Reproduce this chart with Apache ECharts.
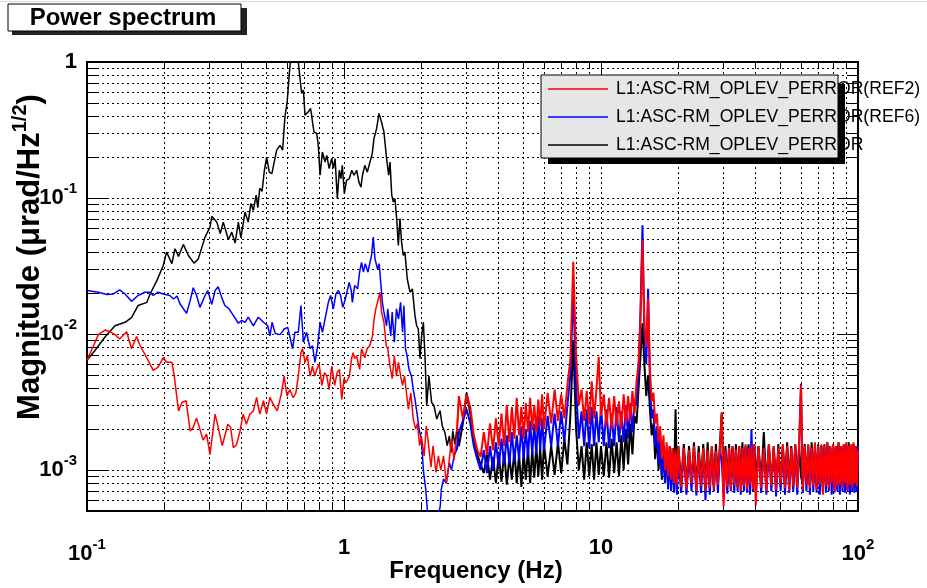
<!DOCTYPE html>
<html>
<head>
<meta charset="utf-8">
<title>Power spectrum</title>
<script src="https://cdn.jsdelivr.net/npm/echarts@6/dist/echarts.min.js"></script>
<style>
  html, body { margin: 0; padding: 0; background: #fff; }
  #chart { width: 927px; height: 588px; }
</style>
</head>
<body>
<div id="chart"></div>
<script>
// tick positions (log axes, minor + major)
const xTicks = [0.1,0.2,0.3,0.4,0.5,0.6,0.7,0.8,0.9,1,2,3,4,5,6,7,8,9,10,20,30,40,50,60,70,80,90,100];
const xMajor = [0.1, 1, 10, 100];
const yTicks = [0.0005,0.0006,0.0007,0.0008,0.0009,0.001,0.002,0.003,0.004,0.005,0.006,0.007,0.008,0.009,
  0.01,0.02,0.03,0.04,0.05,0.06,0.07,0.08,0.09,0.1,0.2,0.3,0.4,0.5,0.6,0.7,0.8,0.9,1];
const yMajor = [0.001, 0.01, 0.1, 1];

const seriesNames = ['L1:ASC-RM_OPLEV_PERROR(REF2)', 'L1:ASC-RM_OPLEV_PERROR(REF6)', 'L1:ASC-RM_OPLEV_PERROR'];
const seriesColors = ['#ff0000', '#0000ff', '#000000'];

// low frequency part, [Hz, magnitude]
const redLow = [[0.1,0.0064],[0.106,0.0082],[0.1107,0.0099],[0.1175,0.0107],[0.1227,0.0104],[0.1285,0.0099],[0.134,0.0092],
  [0.1426,0.0104],[0.149,0.0078],[0.156,0.0096],[0.161,0.0082],[0.168,0.0071],[0.176,0.006],[0.181,0.0054],[0.189,0.0057],
  [0.198,0.0067],[0.204,0.0062],[0.214,0.0062],[0.218,0.0051],[0.227,0.00272],[0.234,0.00314],[0.243,0.00323],[0.252,0.00194],
  [0.259,0.00206],[0.267,0.00241],[0.275,0.002],[0.283,0.00166],[0.292,0.00184],[0.301,0.0013],[0.315,0.00258],[0.324,0.00206],
  [0.336,0.00151],[0.353,0.00217],[0.362,0.00206],[0.371,0.00146],[0.382,0.00154],[0.394,0.00194],[0.405,0.00258],[0.417,0.00217],
  [0.43,0.00258],[0.444,0.00272],[0.457,0.00342],[0.47,0.00258],[0.486,0.00323],[0.5,0.00258],[0.515,0.00342],[0.53,0.00305],
  [0.55,0.00272],[0.57,0.00362],[0.585,0.0049],[0.6,0.0035],[0.615,0.0039],[0.635,0.0034],[0.65,0.0037],[0.664,0.0049],
  [0.68,0.0073],[0.69,0.0078],[0.705,0.0062],[0.72,0.0069],[0.738,0.0049],[0.754,0.0058],[0.77,0.0049],[0.783,0.0055],
  [0.8,0.006],[0.82,0.0042],[0.84,0.0052],[0.857,0.0049],[0.875,0.0039],[0.896,0.0058],[0.92,0.0042],[0.94,0.0052],
  [0.96,0.0055],[0.98,0.0033],[1.0,0.0047],[1.02,0.0044],[1.05,0.0049],[1.07,0.0066],[1.085,0.0073],[1.1,0.0066],
  [1.12,0.0069],[1.15,0.0055],[1.17,0.0078],[1.205,0.0067],[1.23,0.0078],[1.26,0.0082],[1.29,0.0097],[1.31,0.0129],
  [1.33,0.0153],[1.36,0.0181],[1.38,0.0203],[1.4,0.0145],[1.43,0.0122],[1.46,0.0082],[1.48,0.0078],[1.51,0.0058],
  [1.54,0.0047],[1.57,0.0069],[1.6,0.0049],[1.63,0.0062],[1.66,0.0049],[1.69,0.0042],[1.72,0.0049],[1.75,0.0037],
  [1.78,0.0028],[1.82,0.0037],[1.86,0.00237],[1.9,0.002],[1.93,0.0022],[1.97,0.00151],[2.0,0.00178],[2.05,0.00127],
  [2.09,0.00211],[2.13,0.00157],[2.18,0.00105],[2.22,0.00151],[2.28,0.00096],[2.33,0.00127],[2.38,0.001],[2.44,0.00127],
  [2.5,0.0008],[2.55,0.00105],[2.62,0.00169],[2.68,0.00118],[2.75,0.0019]];

const blueLow = [[0.1,0.0209],[0.1107,0.0203],[0.1194,0.0195],[0.1266,0.0197],[0.134,0.0211],[0.1406,0.0197],[0.149,0.0174],
  [0.158,0.0192],[0.168,0.0203],[0.176,0.0203],[0.181,0.0192],[0.189,0.0203],[0.198,0.0197],[0.21,0.0192],[0.217,0.0181],
  [0.224,0.019],[0.23,0.0167],[0.234,0.0168],[0.244,0.0142],[0.252,0.0176],[0.259,0.0219],[0.267,0.0192],[0.275,0.0157],
  [0.288,0.0192],[0.295,0.0209],[0.306,0.0165],[0.315,0.0209],[0.324,0.0223],[0.334,0.0186],[0.344,0.0162],[0.357,0.0153],
  [0.371,0.0137],[0.388,0.012],[0.4,0.0126],[0.412,0.0122],[0.424,0.0133],[0.444,0.0115],[0.464,0.0133],[0.486,0.0122],
  [0.505,0.0115],[0.515,0.0097],[0.525,0.0122],[0.54,0.0101],[0.564,0.0099],[0.585,0.0109],[0.604,0.0112],[0.631,0.0078],
  [0.644,0.0103],[0.664,0.0103],[0.68,0.0162],[0.695,0.0087],[0.715,0.0103],[0.738,0.0078],[0.754,0.0082],[0.771,0.0062],
  [0.79,0.0082],[0.807,0.0122],[0.824,0.0103],[0.844,0.0129],[0.869,0.0171],[0.887,0.0192],[0.909,0.0153],[0.93,0.0197],
  [0.951,0.0209],[0.97,0.0192],[0.989,0.0157],[1.012,0.0181],[1.047,0.024],[1.067,0.0209],[1.078,0.0171],[1.1,0.0227],
  [1.13,0.0215],[1.15,0.0285],[1.17,0.0337],[1.19,0.0285],[1.21,0.0329],[1.24,0.0285],[1.262,0.0337],[1.28,0.0378],
  [1.3,0.0516],[1.32,0.0357],[1.35,0.0302],[1.37,0.0329],[1.39,0.024],[1.41,0.0171],[1.43,0.0145],[1.465,0.0115],
  [1.48,0.0153],[1.52,0.0097],[1.54,0.0145],[1.57,0.0087],[1.6,0.0153],[1.63,0.0129],[1.66,0.0171],[1.69,0.0103],
  [1.71,0.0162],[1.735,0.0078],[1.76,0.0069],[1.79,0.0055],[1.83,0.0049],[1.86,0.0039],[1.89,0.0033],[1.93,0.0025],
  [1.96,0.002],[2.0,0.00169],[2.04,0.00096],[2.08,0.00072],[2.11,0.00051],[2.16,0.0004],[2.25,0.00035],[2.33,0.00045],
  [2.37,0.00055],[2.39,0.00072],[2.44,0.00086],[2.5,0.0008],[2.57,0.00113],[2.62,0.001],[2.68,0.00127],[2.75,0.00142]];

const blackLow = [[0.1,0.0064],[0.107,0.0075],[0.1175,0.0095],[0.1285,0.0115],[0.1406,0.0122],[0.149,0.0132],[0.158,0.0162],
  [0.171,0.0171],[0.176,0.0197],[0.187,0.0247],[0.198,0.0319],[0.204,0.04],[0.214,0.0329],[0.22,0.0424],[0.227,0.0372],
  [0.237,0.0456],[0.248,0.0378],[0.261,0.0332],[0.271,0.0357],[0.288,0.0516],[0.301,0.0611],[0.306,0.0733],[0.32,0.0665],
  [0.33,0.0547],[0.339,0.0665],[0.355,0.0493],[0.366,0.0561],[0.377,0.0466],[0.388,0.0665],[0.397,0.051],[0.412,0.0789],
  [0.424,0.0665],[0.434,0.091],[0.444,0.0812],[0.455,0.105],[0.462,0.085],[0.47,0.118],[0.48,0.112],[0.49,0.16],
  [0.5,0.2],[0.512,0.155],[0.524,0.151],[0.547,0.225],[0.564,0.244],[0.577,0.225],[0.589,0.395],[0.601,0.51],
  [0.612,0.8],[0.63,1.5],[0.65,1.5],[0.666,0.95],[0.684,0.588],[0.695,0.622],[0.705,0.407],[0.726,0.43],[0.741,0.456],
  [0.764,0.306],[0.783,0.298],[0.794,0.245],[0.807,0.147],[0.824,0.218],[0.844,0.184],[0.857,0.206],[0.875,0.165],
  [0.896,0.195],[0.909,0.165],[0.923,0.195],[0.942,0.099],[0.959,0.16],[0.973,0.139],[0.985,0.174],[1.003,0.108],
  [1.023,0.135],[1.049,0.139],[1.072,0.16],[1.094,0.147],[1.12,0.16],[1.143,0.131],[1.164,0.12],[1.18,0.147],
  [1.205,0.174],[1.232,0.155],[1.262,0.184],[1.288,0.212],[1.308,0.274],[1.34,0.325],[1.368,0.419],[1.393,0.374],
  [1.413,0.385],[1.43,0.306],[1.465,0.195],[1.492,0.147],[1.51,0.184],[1.534,0.105],[1.556,0.0935],[1.578,0.099],
  [1.603,0.0705],[1.627,0.0448],[1.651,0.0705],[1.675,0.0474],[1.701,0.0378],[1.726,0.04],[1.762,0.0255],[1.806,0.0203],
  [1.845,0.0215],[1.888,0.0137],[1.918,0.0115],[1.946,0.0109],[1.976,0.0066],[2.005,0.0097],[2.036,0.0122],[2.066,0.0069],
  [2.098,0.00297],[2.14,0.0049],[2.193,0.00314],[2.24,0.00297],[2.295,0.00237],[2.365,0.00273],[2.412,0.00211],
  [2.47,0.00189],[2.52,0.00151],[2.57,0.00178],[2.61,0.00134],[2.65,0.00194],[2.7,0.00155],[2.75,0.002]];

// high frequency part: shared frequency list (Hz) and one magnitude list per trace
const hiFreq = [2.8,2.9,3.0,3.1,3.2,3.3,3.4,3.5,3.6,3.7,3.8,3.9,4.0,4.1,4.2,4.3,4.4,4.5,4.6,4.7,4.8,4.9,5.0,5.1,5.2,5.3,5.4,5.5,5.6,5.7,5.8,5.9,6.0,
  6.2,6.4,6.6,6.8,7.0,7.2,7.4,7.6,7.8,8.0,8.2,8.4,8.6,8.8,9.0,9.2,9.4,9.6,9.8,10,
  10.25,10.5,10.75,11,11.25,11.5,11.75,12,12.25,12.5,12.75,13,13.25,13.5,13.75,14,14.25,14.5,14.75,15,
  15.25,15.5,15.75,16,16.25,16.5,16.75,17,17.25,17.5,17.75,18,18.25,18.5,18.75,19,19.25,19.5,19.75,20,
  20.5,21,21.5,22,22.5,23,23.5,24,24.5,25,25.5,26,26.5,27,27.5,28,28.5,29,29.5,30,
  30.5,31,31.5,32,32.5,33,33.5,34,34.5,35,35.5,36,36.5,37,37.5,38,38.5,39,39.5,40,
  41,42,43,44,45,46,47,48,49,50,51,52,53,54,55,56,57,58,59,60,
  61,62,63,64,65,66,67,68,69,70,71,72,73,74,75,76,77,78,79,80,
  81,82,83,84,85,86,87,88,89,90,91,92,93,94,95,96,97,98,99,100];

const redHi = [3.5e-3,2.4e-3,3.6e-3,2.9e-3,1.8e-3,1.4e-3,1.25e-3,1.9e-3,1.3e-3,2.2e-3,
  1.4e-3,2.4e-3,1.5e-3,2.6e-3,1.5e-3,3.0e-3,1.6e-3,2.9e-3,1.7e-3,3.4e-3,
  1.8e-3,2.9e-3,1.7e-3,3.1e-3,1.9e-3,3.4e-3,2.0e-3,3.0e-3,1.9e-3,3.3e-3,
  2.1e-3,3.6e-3,2.0e-3,
  3.7e-3,2.2e-3,3.9e-3,2.3e-3,3.6e-3,2.4e-3,4.2e-3,6.5e-3,3.4e-2,7.0e-3,
  3.0e-3,3.9e-3,2.3e-3,3.8e-3,2.2e-3,4.5e-3,2.4e-3,3.9e-3,6.8e-3,2.5e-3,
  3.6e-3,2.1e-3,3.4e-3,2.0e-3,3.5e-3,2.1e-3,3.2e-3,2.0e-3,3.6e-3,2.2e-3,
  3.5e-3,2.3e-3,3.8e-3,2.6e-3,4.5e-3,6.0e-3,1.3e-2,4.9e-2,1.2e-2,8.0e-3,
  1.85e-2,5.5e-3,3.2e-3,3.7e-3,2.2e-3,2.6e-3,1.6e-3,2.1e-3,1.2e-3,1.8e-3,
  1.0e-3,1.6e-3,0.9e-3,1.5e-3,0.85e-3,1.45e-3,0.8e-3,1.4e-3,0.78e-3,1.5e-3,
  0.75e-3,1.45e-3,0.72e-3,1.4e-3,0.8e-3,1.5e-3,0.7e-3,1.35e-3,0.76e-3,1.45e-3,
  0.7e-3,1.4e-3,0.74e-3,1.5e-3,0.72e-3,1.38e-3,0.78e-3,1.45e-3,2.65e-3,0.54e-3,
  1.4e-3,0.75e-3,1.45e-3,0.72e-3,1.5e-3,0.78e-3,1.42e-3,0.74e-3,1.5e-3,0.7e-3,
  1.45e-3,0.76e-3,1.55e-3,0.73e-3,1.45e-3,0.78e-3,1.5e-3,0.72e-3,1.55e-3,0.55e-3,
  1.5e-3,0.74e-3,1.45e-3,0.7e-3,1.55e-3,0.76e-3,1.5e-3,0.72e-3,1.45e-3,0.78e-3,
  1.55e-3,0.74e-3,1.5e-3,0.7e-3,1.45e-3,0.76e-3,1.55e-3,0.74e-3,1.5e-3,4.2e-3,
  0.72e-3,1.5e-3,0.78e-3,1.55e-3,0.74e-3,1.45e-3,0.76e-3,1.6e-3,0.72e-3,1.5e-3,
  0.78e-3,1.55e-3,0.66e-3,1.5e-3,0.76e-3,1.6e-3,0.74e-3,1.5e-3,0.8e-3,1.55e-3,
  0.7e-3,1.5e-3,0.76e-3,1.6e-3,0.78e-3,1.5e-3,0.74e-3,1.55e-3,0.8e-3,1.6e-3,
  0.72e-3,1.5e-3,0.78e-3,1.55e-3,0.74e-3,1.6e-3,0.8e-3,1.5e-3,0.76e-3,1.4e-3];

const blueHi = [1.9e-3,2.3e-3,2.8e-3,2.2e-3,1.5e-3,1.2e-3,1.0e-3,1.4e-3,0.95e-3,1.5e-3,
  1.0e-3,1.6e-3,1.05e-3,1.7e-3,1.1e-3,1.8e-3,1.1e-3,1.9e-3,1.15e-3,1.8e-3,
  1.2e-3,2.1e-3,1.2e-3,2.0e-3,1.25e-3,2.3e-3,1.3e-3,2.2e-3,1.3e-3,2.5e-3,
  1.4e-3,2.4e-3,1.4e-3,
  2.5e-3,1.5e-3,2.6e-3,1.5e-3,2.7e-3,1.6e-3,3.0e-3,5.0e-3,2.2e-2,4.0e-3,
  1.7e-3,2.7e-3,1.5e-3,2.8e-3,1.45e-3,2.9e-3,1.5e-3,2.7e-3,1.6e-3,2.9e-3,
  1.5e-3,2.8e-3,1.45e-3,2.6e-3,1.5e-3,2.9e-3,1.6e-3,2.7e-3,1.6e-3,3.0e-3,
  1.7e-3,3.1e-3,1.9e-3,3.3e-3,3.0e-3,5.5e-3,1.5e-2,6.3e-2,1.0e-2,6.0e-3,
  2.15e-2,4.5e-3,2.4e-3,2.8e-3,1.5e-3,2.1e-3,1.1e-3,1.8e-3,0.9e-3,1.5e-3,
  0.8e-3,1.4e-3,0.72e-3,1.3e-3,0.7e-3,1.35e-3,0.68e-3,1.3e-3,0.66e-3,1.3e-3,
  0.68e-3,1.35e-3,0.66e-3,1.3e-3,0.7e-3,1.35e-3,0.65e-3,1.3e-3,0.68e-3,1.4e-3,
  0.6e-3,1.35e-3,0.66e-3,1.3e-3,0.7e-3,1.4e-3,0.68e-3,1.35e-3,1.2e-3,0.62e-3,
  1.4e-3,0.67e-3,1.4e-3,0.7e-3,1.45e-3,0.68e-3,1.4e-3,0.7e-3,1.45e-3,0.66e-3,
  1.4e-3,0.7e-3,1.45e-3,0.68e-3,1.5e-3,0.66e-3,2.0e-3,0.7e-3,1.45e-3,0.68e-3,
  1.45e-3,0.68e-3,1.4e-3,0.66e-3,1.5e-3,0.7e-3,1.45e-3,0.64e-3,1.4e-3,0.7e-3,
  1.5e-3,0.66e-3,1.45e-3,0.68e-3,1.4e-3,0.7e-3,1.5e-3,0.66e-3,1.45e-3,4.3e-3,
  0.68e-3,1.45e-3,0.7e-3,1.5e-3,0.66e-3,1.4e-3,0.7e-3,1.55e-3,0.68e-3,1.45e-3,
  0.66e-3,1.5e-3,0.7e-3,1.45e-3,0.68e-3,1.55e-3,0.7e-3,1.45e-3,0.66e-3,1.5e-3,
  0.68e-3,1.45e-3,0.7e-3,1.55e-3,0.66e-3,1.45e-3,0.7e-3,1.5e-3,0.68e-3,1.55e-3,
  0.7e-3,1.45e-3,0.66e-3,1.5e-3,0.7e-3,1.55e-3,0.68e-3,1.45e-3,0.7e-3,1.5e-3];

const blackHi = [1.5e-3,2.2e-3,3.7e-3,2.6e-3,1.7e-3,1.3e-3,1.1e-3,0.95e-3,1.3e-3,0.85e-3,
  1.25e-3,0.8e-3,1.3e-3,0.82e-3,1.35e-3,0.78e-3,1.25e-3,0.85e-3,1.4e-3,0.8e-3,
  1.3e-3,0.75e-3,1.35e-3,0.85e-3,1.45e-3,0.8e-3,1.4e-3,0.88e-3,1.5e-3,0.9e-3,
  1.45e-3,0.85e-3,1.55e-3,
  0.9e-3,1.5e-3,0.92e-3,1.6e-3,0.95e-3,1.7e-3,1.1e-3,2.5e-3,9.0e-3,2.0e-3,
  1.0e-3,1.5e-3,0.85e-3,1.6e-3,0.9e-3,1.55e-3,0.85e-3,1.6e-3,0.92e-3,1.5e-3,
  0.9e-3,1.6e-3,0.88e-3,1.7e-3,0.95e-3,1.6e-3,0.9e-3,1.8e-3,1.0e-3,2.0e-3,
  1.1e-3,2.2e-3,1.3e-3,2.5e-3,2.2e-3,4.0e-3,7.0e-3,1.2e-2,6.0e-3,3.5e-3,
  5.0e-3,2.8e-3,1.8e-3,2.2e-3,1.2e-3,1.8e-3,1.0e-3,1.6e-3,0.85e-3,1.5e-3,
  0.8e-3,1.4e-3,0.78e-3,1.5e-3,0.8e-3,1.45e-3,0.82e-3,2.8e-3,0.85e-3,1.5e-3,
  0.8e-3,1.55e-3,0.78e-3,1.5e-3,0.8e-3,1.6e-3,0.76e-3,1.5e-3,0.8e-3,1.55e-3,
  0.78e-3,1.6e-3,0.8e-3,1.5e-3,0.76e-3,1.55e-3,0.8e-3,1.5e-3,2.65e-3,0.78e-3,
  1.5e-3,0.8e-3,1.55e-3,0.78e-3,1.5e-3,0.8e-3,1.55e-3,0.76e-3,1.5e-3,0.8e-3,
  1.6e-3,0.78e-3,1.5e-3,0.8e-3,1.55e-3,0.78e-3,1.5e-3,0.8e-3,1.55e-3,0.8e-3,
  1.5e-3,0.8e-3,1.9e-3,0.78e-3,1.55e-3,0.8e-3,1.5e-3,0.76e-3,1.55e-3,0.8e-3,
  1.5e-3,0.78e-3,1.6e-3,0.8e-3,1.5e-3,0.76e-3,1.55e-3,0.8e-3,1.5e-3,0.9e-3,
  0.78e-3,1.55e-3,0.8e-3,1.5e-3,0.76e-3,1.6e-3,0.8e-3,1.5e-3,0.78e-3,1.55e-3,
  0.8e-3,1.5e-3,0.76e-3,1.55e-3,0.8e-3,1.6e-3,0.78e-3,1.5e-3,0.8e-3,1.55e-3,
  0.76e-3,1.5e-3,0.8e-3,1.6e-3,0.78e-3,1.5e-3,0.8e-3,1.55e-3,0.76e-3,1.5e-3,
  0.8e-3,1.6e-3,0.78e-3,1.5e-3,0.8e-3,1.55e-3,0.78e-3,1.5e-3,0.8e-3,1.55e-3];

// the dense noise part is drawn a little thicker so it reads as a band, like the original plot
function lowPart(low, hi) {
  return low.concat([[hiFreq[0], hi[0]]]);
}
function hiPart(low, hi) {
  return [low[low.length - 1]].concat(hiFreq.map((f, i) => [f, hi[i]]));
}

const FONT = "'Liberation Sans', Arial, Helvetica, sans-serif";

function powLabel(v) {
  if (Math.abs(v - 1) < 1e-9) return '1';
  if (Math.abs(v - 10) < 1e-9) return '10';
  return '10{sup|' + Math.round(Math.log10(v)) + '}';
}
const labelRich = {
  sup: { fontSize: 15, fontWeight: 'bold', fontFamily: FONT, color: '#000', padding: [0, 0, 18, 0] }
};

function axisCfg(dim, pos, ticks, len, isMain) {
  const cfg = {
    type: 'log', logBase: 10, position: pos, gridIndex: 0,
    min: dim === 'x' ? 0.1 : 0.0005, max: dim === 'x' ? 100 : 1,
    axisLine: { show: true, onZero: false, lineStyle: { color: '#000', width: 2 } },
    axisTick: { show: true, inside: true, length: len, customValues: ticks, lineStyle: { color: '#000', width: 1 } },
    axisLabel: { show: false },
    splitLine: { show: false },
    minorTick: { show: false },
    minorSplitLine: { show: false },
    silent: true
  };
  if (isMain) {
    cfg.splitLine = { show: true, lineStyle: { color: '#000', width: 1, type: [2, 3] } };
    cfg.axisLabel = {
      show: true,
      customValues: dim === 'x' ? xMajor : yMajor,
      formatter: powLabel,
      fontFamily: FONT, fontWeight: 'bold', fontSize: 22, color: '#000',
      margin: dim === 'x' ? 26 : 10,
      rich: labelRich,
      hideOverlap: false
    };
  }
  return cfg;
}

const chart = echarts.init(document.getElementById('chart'), null, { renderer: 'canvas' });

const traces = [
  { name: seriesNames[2], color: seriesColors[2], low: blackLow, hi: blackHi },
  { name: seriesNames[1], color: seriesColors[1], low: blueLow, hi: blueHi },
  { name: seriesNames[0], color: seriesColors[0], low: redLow, hi: redHi }
];

function lineSeries(name, color, data, width) {
  return {
    type: 'line', name: name, xAxisIndex: 0, yAxisIndex: 0,
    data: data, showSymbol: false, symbol: 'none', clip: true,
    lineStyle: { color: color, width: width }, itemStyle: { color: color },
    sampling: null, silent: true
  };
}
const seriesList = traces.map(t => lineSeries(t.name, t.color, lowPart(t.low, t.hi), 1.5))
  .concat(traces.map(t => lineSeries(t.name, t.color, hiPart(t.low, t.hi), 2)));

const legendY = [89, 117, 145];
const legendItems = [];
seriesNames.forEach((name, i) => {
  legendItems.push({
    type: 'line', z: 101,
    shape: { x1: 548, y1: legendY[i], x2: 608, y2: legendY[i] },
    style: { stroke: seriesColors[i], lineWidth: 1.5 }
  });
  legendItems.push({
    type: 'text', z: 101, x: 616, y: legendY[i],
    style: { text: name, fill: '#000', font: '17.6px ' + FONT, align: 'left', verticalAlign: 'middle',
      textAlign: 'left', textVerticalAlign: 'middle' }
  });
});

chart.setOption({
  animation: false,
  backgroundColor: '#fff',
  grid: { left: 87, right: 69, top: 62, bottom: 77, containLabel: false, outerBoundsMode: 'none' },
  xAxis: [
    axisCfg('x', 'bottom', xTicks, 7, true),
    axisCfg('x', 'bottom', xMajor, 15, false),
    axisCfg('x', 'top', xTicks, 7, false),
    axisCfg('x', 'top', xMajor, 15, false)
  ],
  yAxis: [
    axisCfg('y', 'left', yTicks, 10, true),
    axisCfg('y', 'left', yMajor, 20, false),
    axisCfg('y', 'right', yTicks, 10, false),
    axisCfg('y', 'right', yMajor, 20, false)
  ],
  series: seriesList,
  graphic: [
    { type: 'line', z: 90, shape: { x1: 0, y1: 1.5, x2: 927, y2: 1.5 }, style: { stroke: '#d8d8d8', lineWidth: 1 } },
    // title box
    { type: 'rect', z: 99, shape: { x: 12, y: 8, width: 235, height: 27 }, style: { fill: '#222' } },
    { type: 'rect', z: 100, shape: { x: 8, y: 4, width: 233, height: 27 }, style: { fill: '#fff', stroke: '#000', lineWidth: 1 } },
    { type: 'text', z: 101, x: 123, y: 18,
      style: { text: 'Power spectrum', fill: '#000', font: 'bold 24px ' + FONT, align: 'center', verticalAlign: 'middle',
        textAlign: 'center', textVerticalAlign: 'middle' } },
    // axis titles
    { type: 'text', z: 101, x: 476, y: 571,
      style: { text: 'Frequency (Hz)', fill: '#000', font: 'bold 24px ' + FONT, align: 'center', verticalAlign: 'middle',
        textAlign: 'center', textVerticalAlign: 'middle' } },
    { type: 'text', z: 101, x: 30, y: 257, rotation: Math.PI / 2,
      style: { text: 'Magnitude (\u03bcrad/Hz{sup|1/2})', fill: '#000', font: 'bold 31px ' + FONT,
        align: 'center', verticalAlign: 'middle', textAlign: 'center', textVerticalAlign: 'middle',
        rich: { sup: { fontSize: 20, fontWeight: 'bold', fontFamily: FONT, fill: '#000', padding: [0, 0, 20, 0] } } } },
    // legend box
    { type: 'rect', z: 100, shape: { x: 541, y: 75, width: 297, height: 83 }, style: { fill: '#e6e6e6', stroke: '#000', lineWidth: 1 } },
    ...legendItems,
    { type: 'rect', z: 102, shape: { x: 838, y: 84, width: 7, height: 80 }, style: { fill: '#000' } },
    { type: 'rect', z: 102, shape: { x: 548, y: 158, width: 297, height: 6 }, style: { fill: '#000' } }
  ]
});
</script>
</body>
</html>
